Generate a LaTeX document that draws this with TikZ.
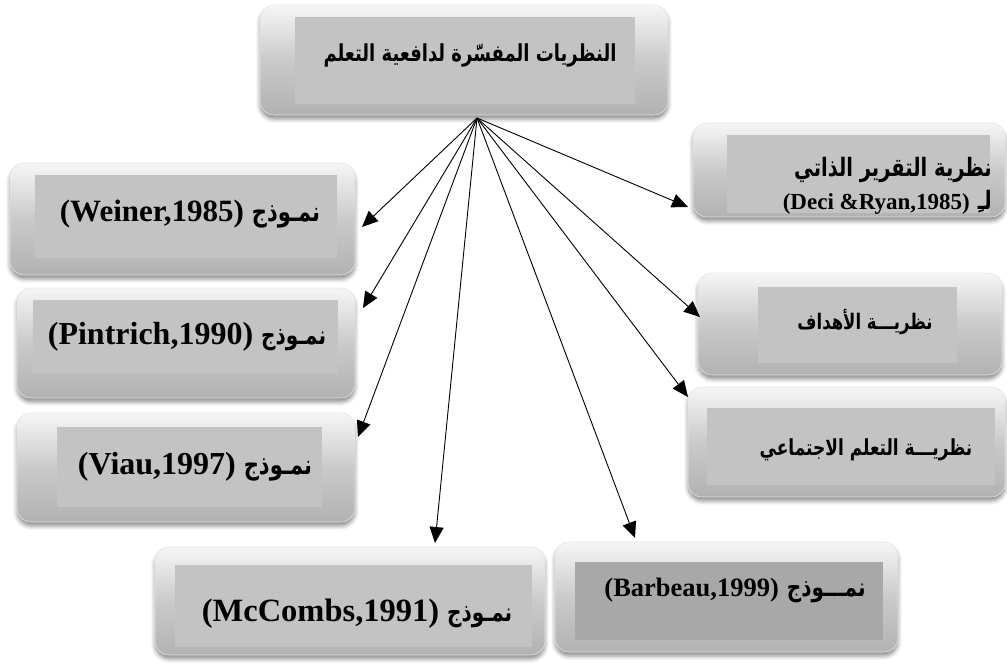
\documentclass[tikz,border=0pt]{standalone}
\usepackage{fontspec}
\usepackage{graphicx}
\setmainfont{Liberation Serif}
\newfontfamily\latfont{Liberation Serif}
\newfontfamily\arabicfont[Script=Arabic]{DejaVu Sans}
\TeXXeTstate=1
\usetikzlibrary{arrows.meta,shadows.blur,fit}
\definecolor{facegray}{HTML}{C3C3C3}
\definecolor{facedark}{HTML}{A8A8A8}
\definecolor{bevtop}{HTML}{F6F6F6}
\definecolor{bevmid}{HTML}{CACACA}
\definecolor{bevbot}{HTML}{B2B2B2}
\tikzset{
  bevel/.style={rounded corners=14pt, inner sep=0pt, draw=black!10, line width=0.6pt,
    top color=bevtop, bottom color=bevbot, middle color=bevmid,
    blur shadow={shadow xshift=0pt, shadow yshift=-4pt, shadow blur radius=4pt, shadow opacity=45}},
  face/.style={inner sep=0pt, fill=facegray, draw=none},
  arr/.style={-{Triangle[length=16pt,width=14pt]}, line width=0.9pt, black},
  txt/.style={inner sep=0pt, font=\bfseries},
}
\newcommand\ar[2]{\scalebox{1}[1.3]{\arabicfont\bfseries\fontsize{#1}{#1}\selectfont #2}}
\newcommand\la[2]{{\latfont\bfseries\fontsize{#1}{#1}\selectfont #2}}
\newcommand\gap{\hspace{8pt}}
\begin{document}
\begin{tikzpicture}[x=1pt,y=-1pt]
\useasboundingbox (0,0) rectangle (1007,664);
% top box
\node[bevel, fit={(260,5)(668,115)}] (top) {};
\node[face, fit={(295,17)(635,104)}] (topF) {};
\node[txt] (topT) at (470,55) {\ar{18}{\beginR النظريات المفسّرة لدافعية التعلم\endR}};
% Weiner
\node[bevel, fit={(10,163)(355,275)}] (wei) {};
\node[face, fit={(35,175)(337,258)}] (weiF) {};
\node[txt] (weiT) at (190,214) {\la{31}{(Weiner,1985)}\gap\ar{21}{\beginR نمـوذج\endR}};
% Pintrich
\node[bevel, fit={(17,288)(355,398)}] (pin) {};
\node[face, fit={(33,300)(338,373)}] (pinF) {};
\node[txt] (pinT) at (187,337) {\la{32}{(Pintrich,1990)}\gap\ar{20}{\beginR نمـوذج\endR}};
% Viau
\node[bevel, fit={(17,413)(355,522)}] (via) {};
\node[face, fit={(57,427)(322,507)}] (viaF) {};
\node[txt] (viaT) at (195,467) {\la{32}{(Viau,1997)}\gap\ar{21}{\beginR نمـوذج\endR}};
% McCombs
\node[bevel, fit={(155,547)(545,655)}] (mcc) {};
\node[face, fit={(175,565)(532,647)}] (mccF) {};
\node[txt] (mccT) at (357,614) {\la{32.5}{(McCombs,1991)}\gap\ar{20}{\beginR نمـوذج\endR}};
% Barbeau
\node[bevel, fit={(555,542)(898,652)}] (bar) {};
\node[face, fill=facedark, fit={(575,562)(883,640)}] (barF) {};
\node[txt] (barT) at (735,590) {\la{26.5}{(Barbeau,1999)}\gap\ar{20}{\beginR نمـــوذج\endR}};
% Deci
\node[bevel, fit={(693,123)(1005,217)}] (dec) {};
\node[face, fit={(727,135)(990,213)}] (decF) {};
\node[txt, align=right, anchor=east] (decT) at (992,186) {\ar{19.5}{\beginR نظرية التقرير الذاتي\endR}\\[6pt]\la{23}{(Deci \&Ryan,1985)}\gap\ar{19.5}{\beginR لـِ\endR}};
% Goals
\node[bevel, fit={(698,273)(1002,375)}] (goa) {};
\node[face, fit={(758,287)(957,363)}] (goaF) {};
\node[txt] (goaT) at (865,322) {\ar{16.5}{\beginR نظريـــة الأهداف\endR}};
% Social
\node[bevel, fit={(688,387)(1005,497)}] (soc) {};
\node[face, fit={(707,408)(995,485)}] (socF) {};
\node[txt] (socT) at (866,450) {\ar{17}{\beginR نظريـــة التعلم الاجتماعي\endR}};
% arrows
\coordinate (o) at (477,118);
\coordinate (tWei) at (362,227);
\coordinate (tPin) at (363,308);
\coordinate (tVia) at (358,437);
\coordinate (tMcc) at (435,543);
\coordinate (tBar) at (635,538);
\coordinate (tDec) at (688,207);
\coordinate (tGoa) at (700,317);
\coordinate (tSoc) at (688,397);
\foreach \t in {tWei,tPin,tVia,tMcc,tBar,tDec,tGoa,tSoc} \draw[arr] (o) -- (\t);
\end{tikzpicture}
\end{document}
